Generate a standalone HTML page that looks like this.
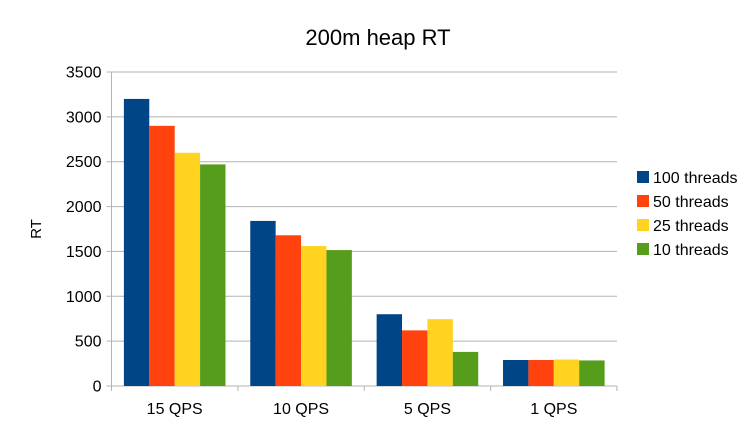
<!DOCTYPE html>
<html><head><meta charset="utf-8"><style>
body{margin:0;background:#fff;font-family:"Liberation Sans",sans-serif}
</style></head><body>
<svg id="c" width="756" height="425" xmlns="http://www.w3.org/2000/svg" font-family="Liberation Sans, sans-serif">
<text x="378" y="45" text-anchor="middle" font-size="22" fill="#000">200m heap RT</text>
<text x="41" y="229" text-anchor="middle" font-size="15" transform="rotate(-90 41 229)">RT</text>
<g id="grid"></g><g id="bars"></g><g id="axes"></g><g id="legend"></g>
</svg>
<script>
const categories=["15 QPS","10 QPS","5 QPS","1 QPS"];
const series=["100 threads","50 threads","25 threads","10 threads"];
const colors=["#004586","#ff420e","#ffd320","#579d1c"];
const s100=[3200,1840,800,290];
const s50=[2900,1680,620,290];
const s25=[2600,1560,745,295];
const s10=[2470,1515,380,285];
const yTicks=[0,500,1000,1500,2000,2500,3000,3500];
const vals=[s100,s50,s25,s10];
const NS="http://www.w3.org/2000/svg";
const X0=111.5,X1=617,Y0=386,Y1=72,YMAX=3500;
const y=v=>Y0-(v/YMAX)*(Y0-Y1);
const gw=(X1-X0)/categories.length;
const bw=25.4;
function mk(t,a,p){const e=document.createElementNS(NS,t);for(const k in a)e.setAttribute(k,a[k]);p.appendChild(e);return e;}
const grid=document.getElementById('grid'),bars=document.getElementById('bars'),axes=document.getElementById('axes'),leg=document.getElementById('legend');
yTicks.forEach(t=>{
 const l=mk('line',{x1:X0-5,x2:X1,y1:y(t),y2:y(t),stroke:'#b3b3b3','stroke-width':1},grid);
 
 
 const tx=mk('text',{x:X0-10,y:y(t)+5.5,'text-anchor':'end','font-size':16},axes);
 tx.textContent=t;
 
 
});
mk('line',{x1:X0,x2:X0,y1:Y1,y2:Y0+5,stroke:'#b3b3b3'},axes);
for(let i=0;i<=categories.length;i++){mk('line',{x1:X0+i*gw,x2:X0+i*gw,y1:Y0,y2:Y0+5,stroke:'#b3b3b3'},axes);}
categories.forEach((c,i)=>{
 const gx=X0+i*gw+(gw-4*bw)/2;
 vals.forEach((s,j)=>{
  const r=mk('rect',{x:gx+j*bw,y:y(s[i]),width:bw,height:Y0-y(s[i]),fill:colors[j]},bars);
  
  
 });
 const t=mk('text',{x:X0+i*gw+gw/2,y:414,'text-anchor':'middle','font-size':16},axes);
 t.textContent=c;
 
 
});
series.forEach((s,j)=>{
 const yy=171+j*24;
 const r=mk('rect',{x:637,y:yy,width:12,height:12,fill:colors[j]},leg);
 
 
 const t=mk('text',{x:653,y:yy+12,'font-size':16},leg);
 t.textContent=s;
 
 
});
</script>
</body></html>
